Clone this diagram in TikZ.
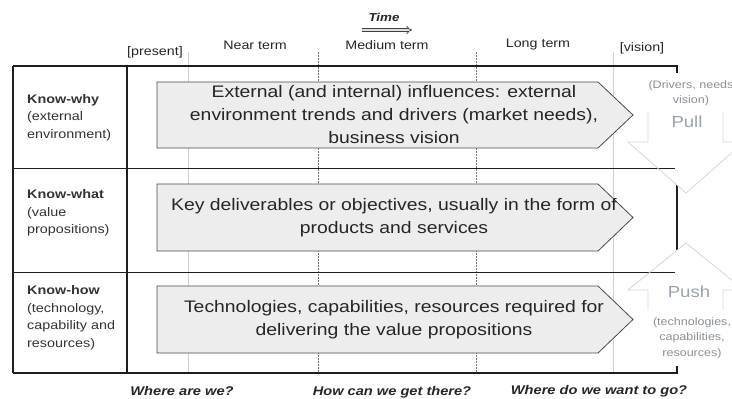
\documentclass[tikz,border=0pt]{standalone}
\usepackage{fontspec}
\setmainfont{Liberation Sans}[FakeStretch=1.16]
\usetikzlibrary{arrows.meta}
\definecolor{framec}{HTML}{1E1E1E}
\definecolor{arrfill}{HTML}{EDEDED}
\definecolor{arrdraw}{HTML}{4A4A4A}
\definecolor{ghost}{HTML}{D6D6D6}
\definecolor{pptext}{HTML}{9AA3AD}
\definecolor{smalltext}{HTML}{8A8F96}
\begin{document}
\begin{tikzpicture}[x=1pt,y=-1pt,
  thickframe/.style={draw=framec,line width=2.4pt,line join=miter},
  thinrow/.style={draw=framec,line width=0.8pt},
  softguide/.style={draw=black!18,line width=0.8pt},
  dashguide/.style={draw=black!55,line width=0.5pt,dash pattern=on 2pt off 1pt},
  bigarrow/.style={draw=arrdraw,fill=arrfill,line width=0.8pt,line join=miter},
  ghostarrow/.style={draw=ghost,line width=0.8pt,line join=miter},
  maintext/.style={font=\fontsize{16.7}{23}\selectfont,align=center,text=black!85,inner sep=0pt},
  rowlabel/.style={font=\fontsize{12.4}{17.5}\selectfont,align=left,anchor=west,inner sep=0pt,text=black!80},
  headtext/.style={font=\fontsize{12.3}{14}\selectfont,inner sep=0pt,text=black!85},
  quest/.style={font=\fontsize{12.6}{14}\bfseries\itshape\selectfont,inner sep=0pt,text=black!85},
  pptitle/.style={font=\fontsize{16}{18}\selectfont,inner sep=0pt,text=pptext},
  ppnote/.style={font=\fontsize{10.8}{15.5}\selectfont,align=center,inner sep=0pt,text=smalltext}
]
\clip (0,0) rectangle (732,399);

% guide lines
\draw[softguide] (188,52) -- (188,373);
\draw[dashguide] (318,52) -- (318,373);
\draw[dashguide] (476,52) -- (476,373);
\draw[softguide] (613,52) -- (613,373);

% frame
\draw[thickframe] (13,66) -- (13,373);
\draw[draw=framec,line width=2pt] (127,66) -- (127,373);
\draw[thinrow] (13,168) -- (675,168);
\draw[thinrow] (13,272) -- (675,272);
\draw[thickframe] (13,66) -- (677,66) -- (677,73);
\draw[thickframe] (13,373) -- (677,373) -- (677,366);
\draw[thickframe] (677,185) -- (677,250);

% big arrows
\draw[bigarrow] (157,82) -- (598,82) -- (633,115) -- (598,148) -- (157,148) -- cycle;
\draw[bigarrow] (157,184) -- (598,184) -- (633,217.5) -- (598,251) -- (157,251) -- cycle;
\draw[bigarrow] (157,286) -- (598,286) -- (633,319.5) -- (598,353) -- (157,353) -- cycle;

\node[maintext] (why) at (394,115) {External (and internal) influences: external\\environment trends and drivers (market needs),\\business vision};
\node[maintext] (what) at (394,217.5) {Key deliverables or objectives, usually in the form of\\products and services};
\node[maintext] (how) at (394,319.5) {Technologies, capabilities, resources required for\\delivering the value propositions};

% row labels
\node[rowlabel] (lwhy) at (27,117.5) {\textbf{Know-why}\\(external\\environment)};
\node[rowlabel] (lwhat) at (27,213) {\textbf{Know-what}\\(value\\propositions)};
\node[rowlabel] (lhow) at (27,318) {\textbf{Know-how}\\(technology,\\capability and\\resources)};

% headers
\node[headtext] (present) at (155,52) {[present]};
\node[headtext] (near) at (255,45) {Near term};
\node[headtext] (medium) at (387,45) {Medium term};
\node[headtext] (long) at (538,45) {Long term};
\node[headtext] (vision) at (642,48) {[vision]};
\node[font=\fontsize{11.5}{13}\bfseries\itshape\selectfont,inner sep=0pt,text=black!85] (time) at (384,17) {Time};
\coordinate (ts) at (362,30);
\coordinate (te) at (412,30);
\draw[draw=black!75,double=black!12,double distance=2.2pt,line width=0.7pt,-{Implies}] (ts) -- (te);

% bottom questions
\node[quest] (q1) at (182,391) {Where are we?};
\node[quest] (q2) at (392,392) {How can we get there?};
\node[quest] (q3) at (599,391) {Where do we want to go?};

% pull arrow
\draw[ghostarrow] (648,112) -- (648,142) -- (628,142) -- (686,193) -- (744,142) -- (723,142) -- (723,112);
\node[ppnote] (pullnote) at (691,93) {(Drivers, needs\\vision)};
\node[pptitle] (pull) at (687,122) {Pull};

% push arrow
\draw[ghostarrow] (648,310) -- (648,290) -- (628,290) -- (686,243) -- (744,290) -- (723,290) -- (723,310);
\node[pptitle] (push) at (689,292) {Push};
\node[ppnote] (pushnote) at (692,338) {(technologies,\\capabilities,\\resources)};
\end{tikzpicture}
\end{document}
